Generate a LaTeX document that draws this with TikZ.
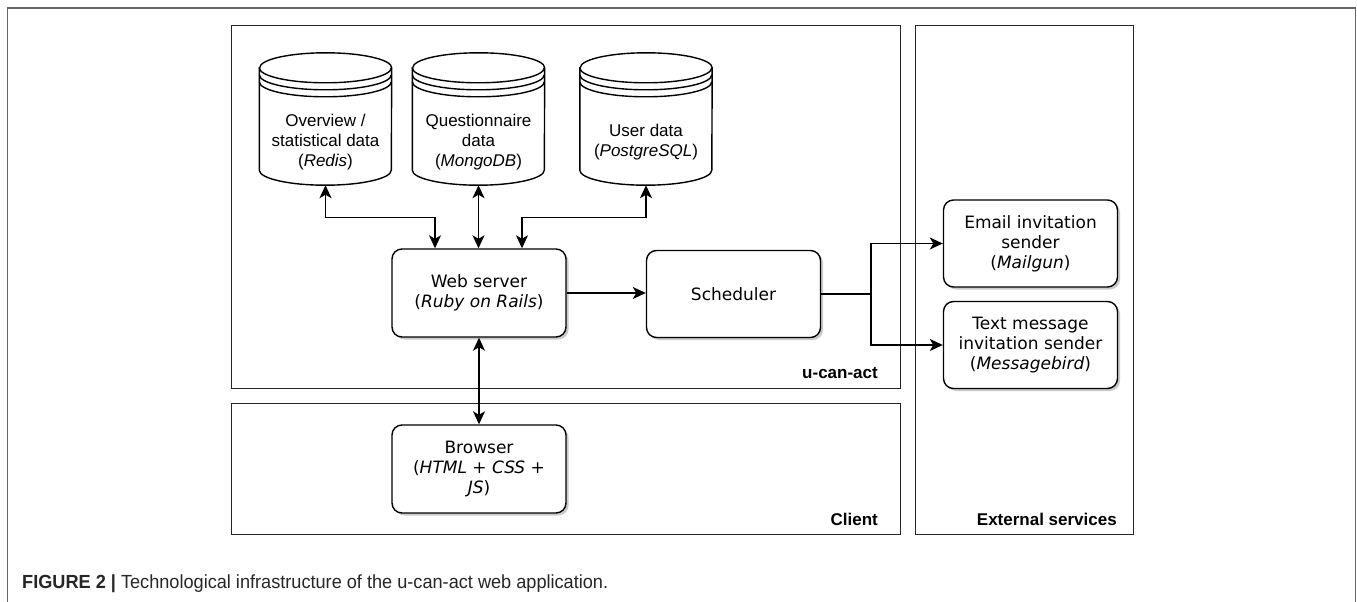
\documentclass[tikz,border=0pt]{standalone}
\usepackage{fontspec}
\setmainfont{Liberation Sans}
\newfontfamily\boxfont{DejaVu Sans}
\newfontfamily\capfont[FakeStretch=0.955]{Liberation Sans}
\usetikzlibrary{arrows.meta,calc,shadows}
\tikzset{
  group/.style={draw=black!85, line width=1.4pt, anchor=north west, inner sep=0pt},
  glabel/.style={font=\fontsize{17}{20}\selectfont\bfseries, anchor=base east, inner sep=0pt},
  procbox/.style={draw, line width=1.4pt, rounded corners=10pt, fill=white,
    minimum width=174pt, minimum height=87pt, align=center, inner sep=2pt,
    font=\boxfont\fontsize{17}{20}\selectfont,
    drop shadow={shadow xshift=2.5pt, shadow yshift=-2.5pt, opacity=0.35, fill=black!60}},
  dbshape/.style={minimum width=132pt, minimum height=132pt, inner sep=0pt},
  dbtext/.style={align=center, inner sep=0pt, font=\fontsize{17}{20}\selectfont},
  dbline/.style={line width=1.4pt},
  tip/.tip={Stealth[length=13pt,width=12pt,inset=3.5pt]},
  link/.style={line width=1.4pt, -tip},
  link2/.style={line width=1.4pt, tip-tip},
  plain/.style={line width=1.4pt}
}
\newcommand\dbcyl[1]{%
  \draw[dbline,fill=white] ($(#1.north west)+(0,15)$) -- ($(#1.south west)+(0,-15)$)
    arc[start angle=180,end angle=360,x radius=66pt,y radius=15pt]
    -- ($(#1.north east)+(0,15)$)
    arc[start angle=0,end angle=180,x radius=66pt,y radius=15pt] -- cycle;
  \draw[dbline] ($(#1.north west)+(0,15)$) arc[start angle=180,end angle=360,x radius=66pt,y radius=15pt];
  \draw[dbline] ($(#1.north west)+(0,22)$) arc[start angle=180,end angle=360,x radius=66pt,y radius=15pt];
  \draw[dbline] ($(#1.north west)+(0,29)$) arc[start angle=180,end angle=360,x radius=66pt,y radius=15pt];
}
\begin{document}
\begin{tikzpicture}[x=1pt,y=-1pt]
\useasboundingbox (0,0) rectangle (1357,602);
% outer frame
\draw[line width=1.5pt, black!60] (7.5,602) -- (7.5,8) -- (1355.5,8) -- (1355.5,602);

% groups
\node[group, minimum width=669pt, minimum height=363pt] (ucan) at (231,25) {};
\node[group, minimum width=669pt, minimum height=131pt] (client) at (231,403) {};
\node[group, minimum width=218pt, minimum height=509pt] (ext) at (915,25) {};
\node[glabel] (ucanlbl) at (878,378) {u-can-act};
\node[glabel] (clientlbl) at (878,525) {Client};
\node[glabel] (extlbl) at (1117,525) {External services};

% databases
\node[dbshape] (redis) at (325.5,119) {};
\node[dbshape] (quest) at (478.5,119) {};
\node[dbshape] (user) at (646,119) {};
\dbcyl{redis}\dbcyl{quest}\dbcyl{user}
\node[dbtext] (redistxt) at ($(redis.center)+(0,23)$) {Overview /\\statistical data\\(\textit{Redis})};
\node[dbtext] (questtxt) at ($(quest.center)+(0,23)$) {Questionnaire\\data\\(\textit{MongoDB})};
\node[dbtext] (usertxt) at ($(user.center)+(0,23)$) {User data\\(\textit{PostgreSQL})};

% process boxes
\node[procbox, minimum height=88pt] (web) at (479,293) {Web server\\(\textit{Ruby on Rails})};
\node[procbox] (sched) at (733.5,294) {Scheduler};
\node[procbox, minimum height=88pt] (browser) at (479,469) {Browser\\(\textit{HTML} + \textit{CSS} +\\\textit{JS})};
\node[procbox] (email) at (1030.5,243.5) {Email invitation\\sender\\(\textit{Mailgun})};
\node[procbox] (sms) at (1030.5,345) {Text message\\invitation sender\\(\textit{Messagebird})};
\coordinate (j) at (871,294);

% connectors
\draw[link2] (redis.south) -- ++(0,32) -| ([xshift=-44pt]web.north);
\draw[link2] (quest.south) -- (quest.south |- web.north);
\draw[link2] (user.south) -- ++(0,32) -| ([xshift=43pt]web.north);
\draw[link] (web.east) -- (web.east -| sched.west);
\draw[link2] (web.south) -- (browser.north);
\draw[plain] (sched.east) -- (j);
\draw[link] (j) |- (email.west);
\draw[link] (j) |- (sms.west);

% caption
\node[anchor=base west, inner sep=0pt, font=\capfont\fontsize{19}{22}\selectfont, text=black!85] (cap) at (22,588)
  {\textbf{FIGURE 2 |} Technological infrastructure of the u-can-act web application.};
\end{tikzpicture}
\end{document}
